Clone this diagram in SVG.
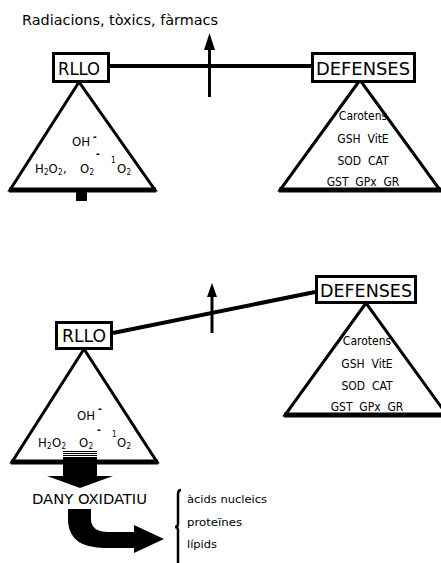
<svg xmlns="http://www.w3.org/2000/svg" width="441" height="563" viewBox="0 0 441 563">
<style>
text{font-family:"DejaVu Sans Condensed","DejaVu Sans",sans-serif;fill:#000}
.box{fill:#fff;stroke:#000;stroke-width:3}
.tri{fill:#fff;stroke:#000;stroke-width:3;stroke-linejoin:miter}
.base{stroke:#000;stroke-width:5}
.conn{stroke:#000;stroke-width:4;fill:none}
.lbl{font-size:18px}
.def{font-size:12px;text-anchor:middle}
.sp{font-size:13px}
.sub{font-size:8px}
.rad{font-size:10px;font-weight:bold}
.brace{font-size:11px}
.stripe{stroke:#000;stroke-width:1;shape-rendering:crispEdges}
</style>
<rect width="441" height="563" fill="#fff"/>
<text x="22" y="25" font-size="14" textLength="196" lengthAdjust="spacingAndGlyphs">Radiacions, tòxics, fàrmacs</text>

<g id="connectors">
<line class="conn" x1="109" y1="66" x2="311" y2="66"/>
<line x1="209.5" y1="97" x2="209.5" y2="46" stroke="#000" stroke-width="3"/>
<polygon points="204,50 215,50 209.5,33" fill="#000"/>
<line class="conn" x1="113" y1="333" x2="315" y2="292"/>
<line x1="212" y1="333" x2="212" y2="294" stroke="#000" stroke-width="3"/>
<polygon points="207,297 217,297 212,283" fill="#000"/>
</g>

<g id="top-rllo-triangle">
<polygon class="tri" points="79,82 10,190 155,190"/>
<line class="base" x1="9" y1="190" x2="156" y2="190"/>
<rect x="76" y="192" width="11" height="9" fill="#000"/>
<text x="72" y="146" class="sp">OH</text>
<text x="93" y="140" class="rad">-</text>
<text x="35" y="173" class="sp">H</text>
<text x="44" y="175" class="sub">2</text>
<text x="48.6" y="173" class="sp">O</text>
<text x="58" y="175" class="sub">2</text>
<text x="63" y="173" class="sp">,</text>
<text x="80" y="173" class="sp">O</text>
<text x="89.5" y="175" class="sub">2</text>
<text x="96" y="157" class="rad">-</text>
<text x="111" y="163" class="sub">1</text>
<text x="117" y="173" class="sp">O</text>
<text x="126.5" y="175" class="sub">2</text>
</g>

<g id="top-rllo">
<rect class="box" x="53.5" y="53.5" width="55" height="28"/>
<text x="58" y="75" class="lbl" textLength="42" lengthAdjust="spacingAndGlyphs">RLLO</text>
</g>

<g id="top-defenses-triangle">
<polygon class="tri" points="360,80 280,190 440,190"/>
<line class="base" x1="279" y1="190" x2="441" y2="190"/>
<text x="363" y="120" class="def">Carotens</text>
<text x="363" y="143" class="def" xml:space="preserve">GSH  VitE</text>
<text x="363" y="165" class="def" xml:space="preserve">SOD  CAT</text>
<text x="363" y="186" class="def" xml:space="preserve">GST  GPx  GR</text>
</g>

<g id="top-defenses">
<rect class="box" x="312.5" y="53.5" width="102" height="28"/>
<text x="316" y="75" class="lbl" textLength="94" lengthAdjust="spacingAndGlyphs">DEFENSES</text>
</g>

<g id="bottom-rllo-triangle">
<polygon class="tri" points="84,349 12,462 157,462"/>
<text x="77" y="420" class="sp">OH</text>
<text x="98" y="412" class="rad">-</text>
<text x="38" y="447" class="sp">H</text>
<text x="47" y="449" class="sub">2</text>
<text x="52" y="447" class="sp">O</text>
<text x="61.5" y="449" class="sub">2</text>
<text x="79" y="447" class="sp">O</text>
<text x="88.5" y="449" class="sub">2</text>
<text x="97" y="433" class="rad">-</text>
<text x="112" y="437" class="sub">1</text>
<text x="117" y="447" class="sp">O</text>
<text x="126.5" y="449" class="sub">2</text>
<g id="thick-arrow">
<line class="stripe" x1="63" y1="451.5" x2="97" y2="451.5"/>
<line class="stripe" x1="63" y1="453.5" x2="97" y2="453.5"/>
<line class="stripe" x1="63" y1="455.5" x2="97" y2="455.5"/>
<rect x="63" y="457" width="34" height="21" fill="#000"/>
</g>
<line class="base" x1="11" y1="462" x2="158" y2="462"/>
<polygon points="47,476 113,476 80,488" fill="#000"/>
</g>

<g id="bottom-rllo">
<rect class="box" x="56.5" y="322.5" width="55" height="26"/>
<text x="62" y="342" class="lbl" textLength="44" lengthAdjust="spacingAndGlyphs">RLLO</text>
</g>

<g id="bottom-defenses-triangle">
<polygon class="tri" points="366,303 285,415 447,415"/>
<line class="base" x1="284" y1="415" x2="441" y2="415"/>
<text x="367" y="345" class="def">Carotens</text>
<text x="367" y="368" class="def" xml:space="preserve">GSH  VitE</text>
<text x="367" y="390" class="def" xml:space="preserve">SOD  CAT</text>
<text x="367" y="411" class="def" xml:space="preserve">GST  GPx  GR</text>
</g>

<g id="bottom-defenses">
<rect class="box" x="316.5" y="276.5" width="99" height="26"/>
<text x="320" y="297" class="lbl" textLength="92" lengthAdjust="spacingAndGlyphs">DEFENSES</text>
</g>

<g id="dany">
<text x="32" y="504" font-size="14" textLength="115" lengthAdjust="spacingAndGlyphs">DANY OXIDATIU</text>
<path d="M68,509 L91,509 L91,520 Q92,532 108,532 L134,532 L134,525 L164,539 L134,553 L134,548 L105,548 Q70,548 68,522 Z" fill="#000"/>
</g>

<g id="targets">
<path d="M181,490 Q178,490 178,494 L178,524 Q178,527 175,527 Q178,527 178,530 L178,563" fill="none" stroke="#000" stroke-width="2.5"/>
<text x="187" y="503" class="brace" textLength="80" lengthAdjust="spacingAndGlyphs">àcids nucleics</text>
<text x="187" y="526" class="brace" textLength="55" lengthAdjust="spacingAndGlyphs">proteïnes</text>
<text x="187" y="548" class="brace" textLength="30" lengthAdjust="spacingAndGlyphs">lípids</text>
</g>
</svg>
